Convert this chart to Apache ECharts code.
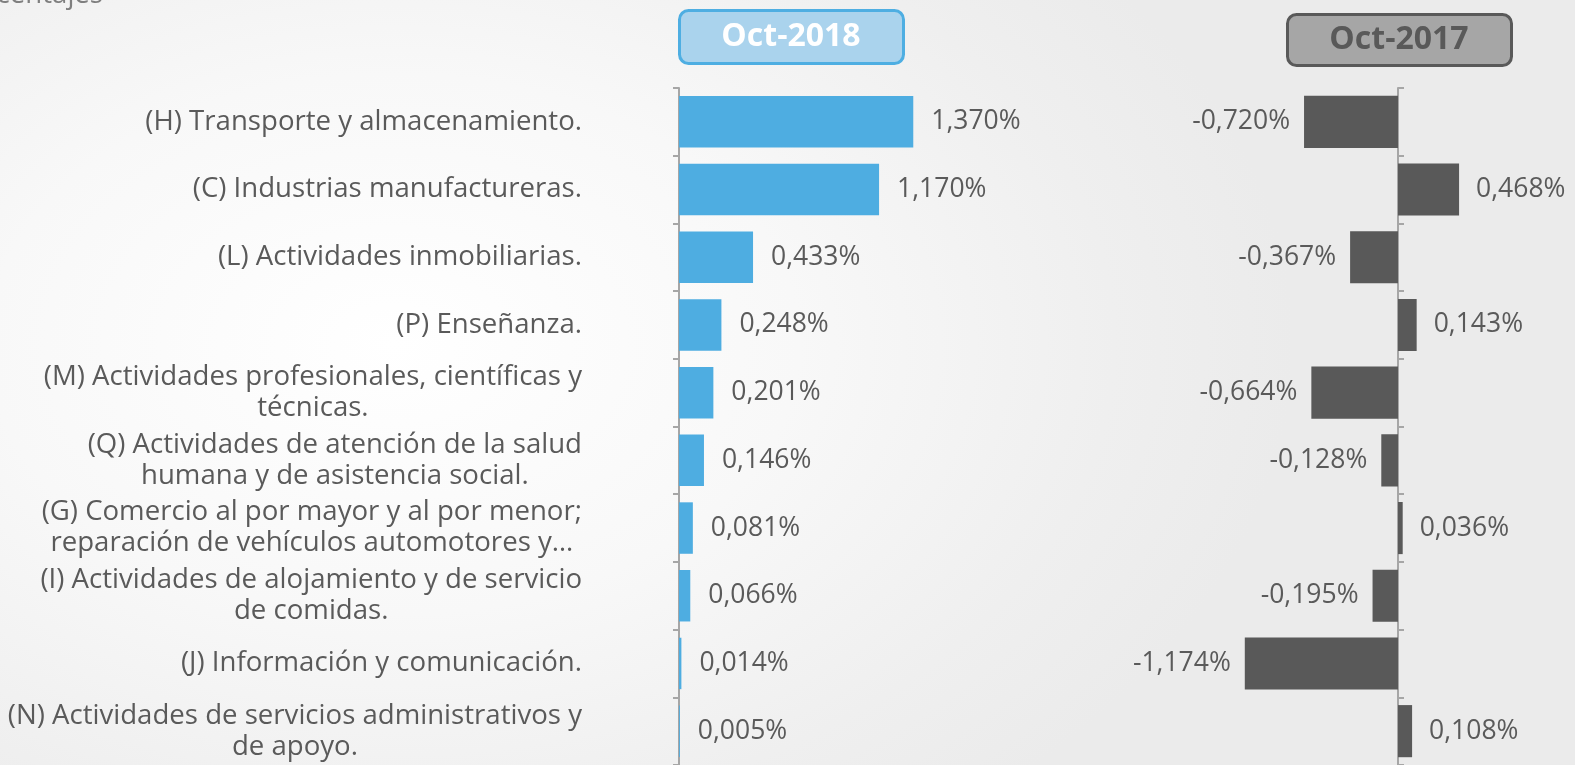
<!DOCTYPE html>
<html>
<head>
<meta charset="utf-8">
<script src="https://cdn.jsdelivr.net/npm/echarts@6/dist/echarts.min.js"></script>
<style>
html,body{margin:0;padding:0;width:1575px;height:765px;overflow:hidden;}
body{background: radial-gradient(ellipse 900px 600px at 25% 45%, #ffffff 0%, #f8f8f8 45%, #efefef 80%, #ebebeb 100%);}
#c{width:1575px;height:765px;}
</style>
</head>
<body>
<div id="c"></div>
<script>
const categories = [
  "(H) Transporte y almacenamiento.",
  "(C) Industrias manufactureras.",
  "(L) Actividades inmobiliarias.",
  "(P) Enseñanza.",
  "(M) Actividades profesionales, científicas y\ntécnicas.",
  "(Q) Actividades de atención de la salud\nhumana y de asistencia social.",
  "(G) Comercio al por mayor y al por menor;\nreparación de vehículos automotores y…",
  "(I) Actividades de alojamiento y de servicio\nde comidas.",
  "(J) Información y comunicación.",
  "(N) Actividades de servicios administrativos y\nde apoyo."
];
const oct2018 = [1.370, 1.170, 0.433, 0.248, 0.201, 0.146, 0.081, 0.066, 0.014, 0.005];
const oct2017 = [-0.720, 0.468, -0.367, 0.143, -0.664, -0.128, 0.036, -0.195, -1.174, 0.108];
const headerLeft = "Oct-2018";
const headerRight = "Oct-2017";
const topText = "Porcentajes";

const FONT = "'Open Sans', Lato, sans-serif";
const TXT = "#5a5a5a";
const AX = "#a6a6a6";
const FS = 26.5;
const FSC = 27.6;
const fmt = v => v.toFixed(3).replace('.', ',') + '%';

const chart = echarts.init(document.getElementById('c'), null, {renderer: 'canvas'});

const labelCommon = {
  show: true, color: TXT, fontFamily: FONT, fontSize: FS, distance: 18,
  formatter: p => fmt(p.value)
};

const option = {
  backgroundColor: 'transparent',
  animation: false,
  grid: [
    {left: 679, top: 88, width: 342, height: 680, containLabel: false},
    {left: 1215.3, top: 88, width: 261, height: 680, containLabel: false}
  ],
  xAxis: [
    {gridIndex: 0, type: 'value', min: 0, max: 2, show: false},
    {gridIndex: 1, type: 'value', min: -1.4, max: 0.6, show: false}
  ],
  yAxis: [
    {
      gridIndex: 0, type: 'category', data: categories, inverse: true,
      axisLine: {show: true, lineStyle: {color: AX, width: 2}},
      axisTick: {show: true, length: 6, lineStyle: {color: AX, width: 2}},
      splitLine: {show: false},
      axisLabel: {
        show: true, margin: 97, align: 'right',
        formatter: v => v.split('\n').map(s => '{c|' + s + '}').join('\n'),
        rich: {c: {align: 'center', color: TXT, fontFamily: FONT, fontSize: FSC, lineHeight: 31}}
      }
    },
    {
      gridIndex: 1, type: 'category', data: categories, inverse: true,
      axisLine: {show: true, onZero: true, lineStyle: {color: AX, width: 2}},
      axisTick: {show: true, inside: true, length: 6, lineStyle: {color: AX, width: 2}},
      splitLine: {show: false},
      axisLabel: {show: false}
    }
  ],
  series: [
    {
      type: 'bar', xAxisIndex: 0, yAxisIndex: 0, barWidth: '76%',
      itemStyle: {color: '#4eade1'},
      label: Object.assign({}, labelCommon, {position: 'right'}),
      data: oct2018.map(v => ({value: v}))
    },
    {
      type: 'bar', xAxisIndex: 1, yAxisIndex: 1, barWidth: '77%',
      itemStyle: {color: '#595959'},
      label: Object.assign({}, labelCommon),
      data: oct2017.map(v => ({value: v, label: {position: v < 0 ? 'left' : 'right', distance: v < 0 ? 14 : 17}}))
    }
  ],
  graphic: [
    {type: 'text', right: 1472, top: -19, style: {text: topText, fill: '#7f7f7f', font: FSC + 'px ' + FONT}},
    {type: 'rect', shape: {x: 679.5, y: 10.5, width: 224, height: 53, r: 9},
     style: {fill: '#aad3ed', stroke: '#4eaee2', lineWidth: 3}},
    {type: 'text', x: 791, y: 37, style: {text: headerLeft, fill: '#ffffff', font: 'bold 32px ' + FONT, align: 'center', verticalAlign: 'middle'}},
    {type: 'rect', shape: {x: 1287.5, y: 14.5, width: 224, height: 51, r: 9},
     style: {fill: '#a6a6a6', stroke: '#595959', lineWidth: 3}},
    {type: 'text', x: 1399, y: 40, style: {text: headerRight, fill: '#595959', font: 'bold 32px ' + FONT, align: 'center', verticalAlign: 'middle'}}
  ]
};
chart.setOption(option);
</script>
</body>
</html>
